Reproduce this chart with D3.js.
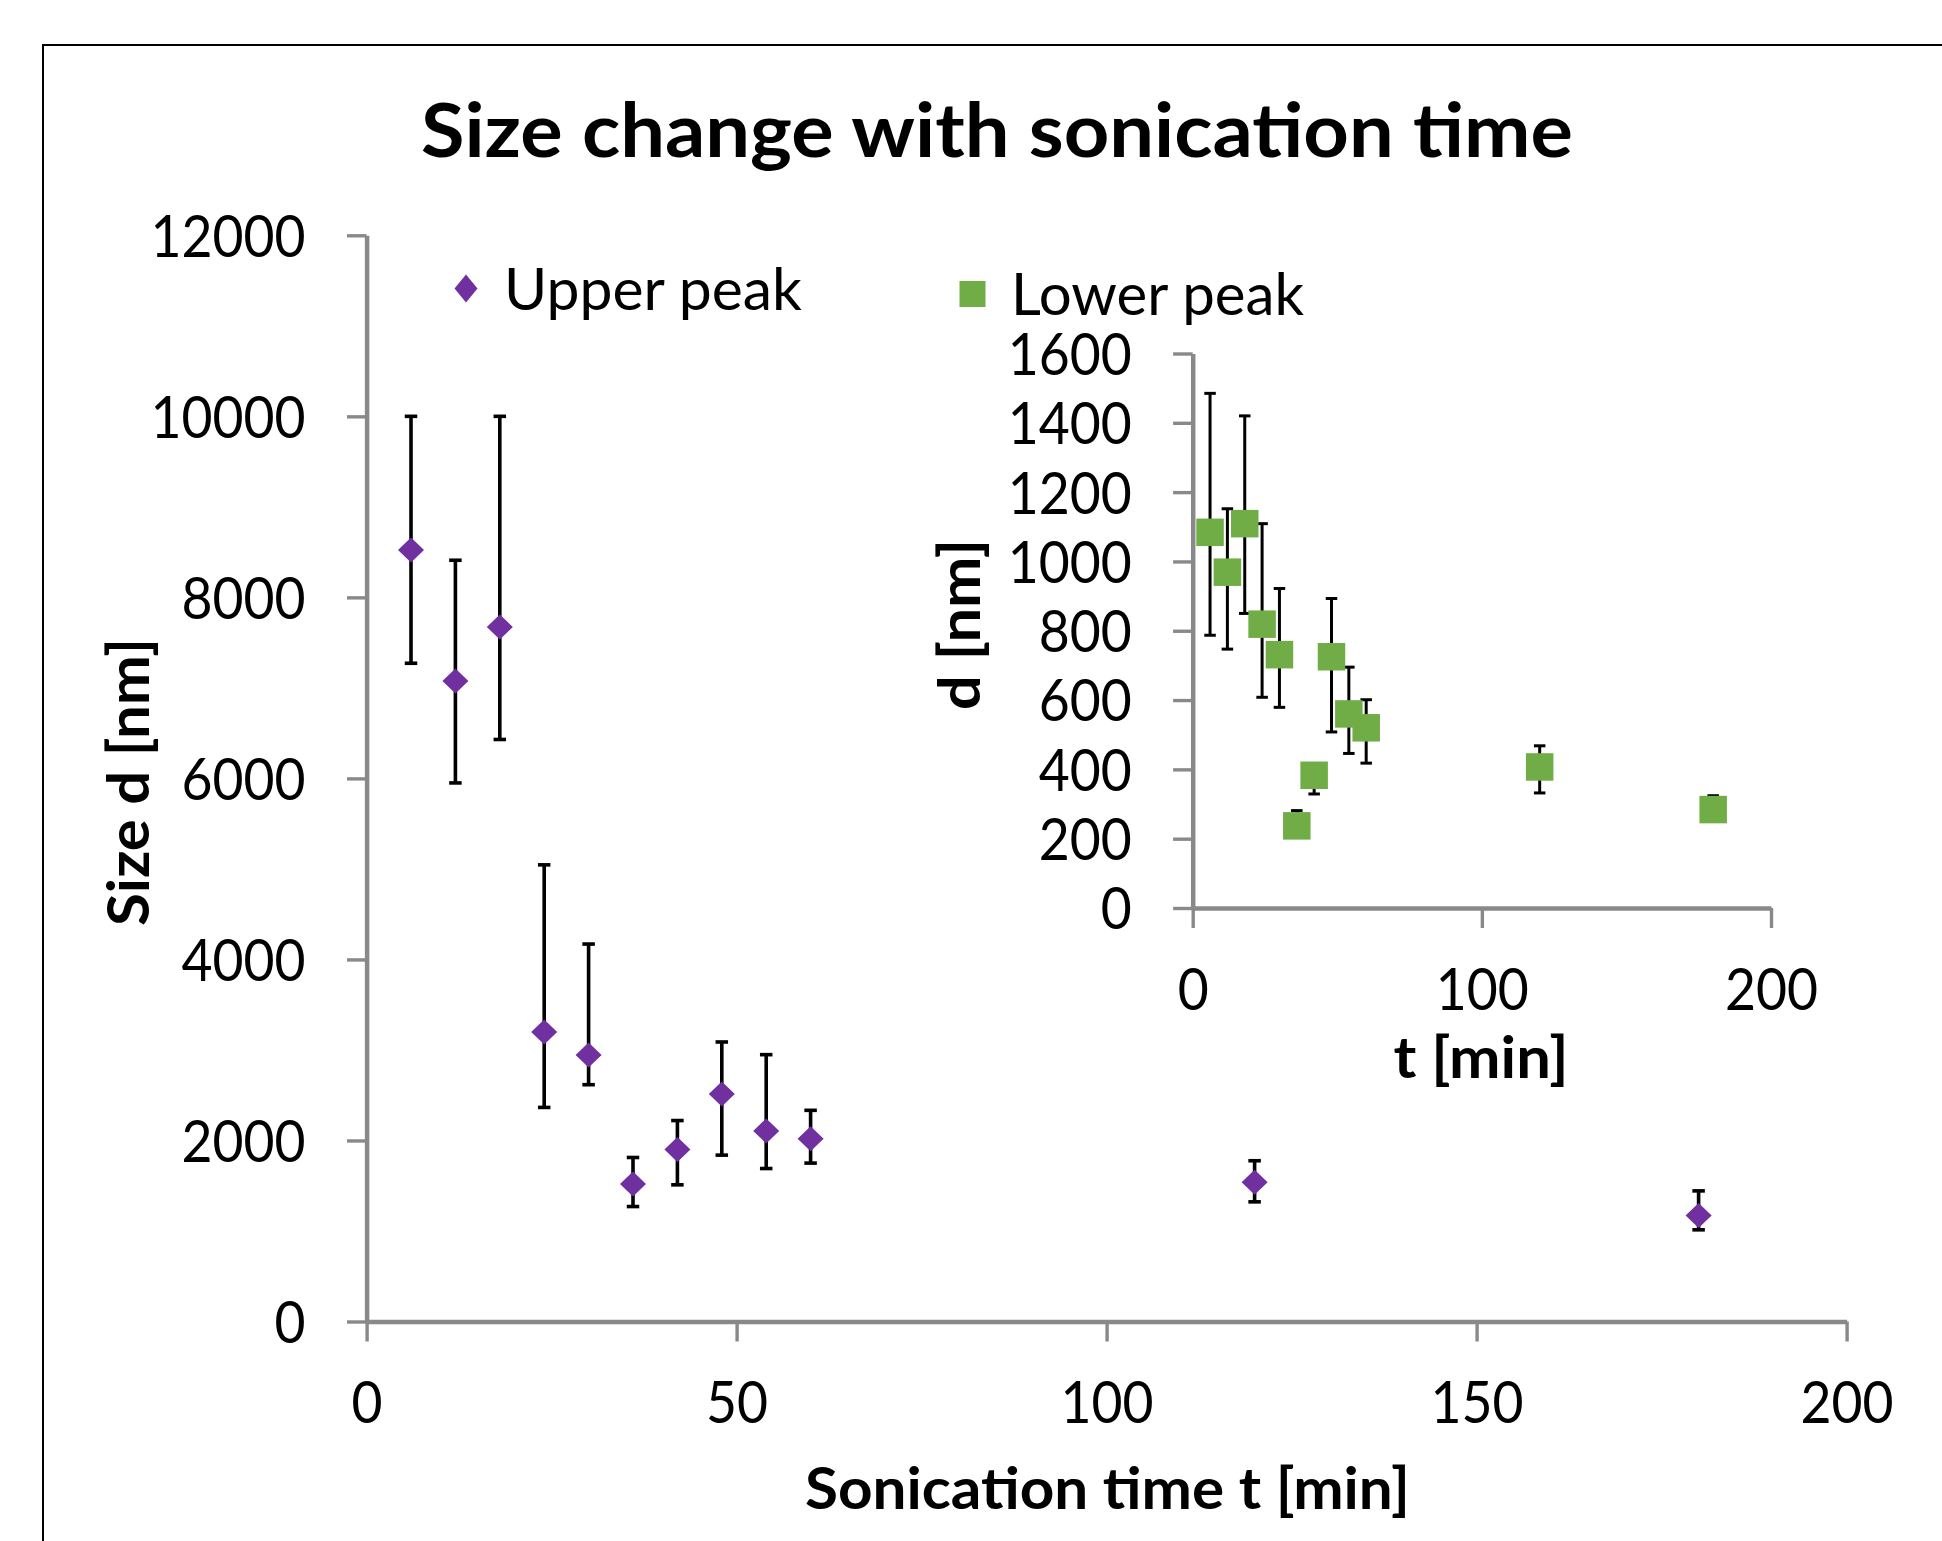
<!DOCTYPE html>
<html>
<head>
<meta charset="utf-8">
<script src="https://cdn.jsdelivr.net/npm/d3@7"></script>
<style>
  html, body { margin: 0; padding: 0; background: #fff; }
  svg { display: block; font-family: Lato, "Open Sans", sans-serif; }
</style>
</head>
<body>
<svg id="chart" width="1942" height="1541"></svg>
<script>
// ---- data ----
const times = [6, 12, 18, 24, 30, 36, 42, 48, 54, 60, 120, 180];

const upperSize = [8523, 7075, 7672, 3198, 2944, 1519, 1900, 2512, 2105, 2020, 1538, 1170];
const upperHigh = [10000, 8410, 10000, 5045, 4170, 1812, 2220, 3088, 2948, 2333, 1776, 1443];
const upperLow  = [7272, 5950, 6430, 2365, 2616, 1270, 1510, 1838, 1690, 1750, 1322, 1013];

const lowerSize = [1084, 969, 1109, 819, 731, 237, 383, 725, 560, 520, 407, 284];
const lowerHigh = [1485, 1152, 1420, 1109, 922, 281, 395, 893, 695, 601, 468, 324];
const lowerLow  = [787, 747, 850, 608, 579, 215, 329, 508, 446, 418, 332, 270];

const mainXTicks = [0, 50, 100, 150, 200];
const mainYTicks = [0, 2000, 4000, 6000, 8000, 10000, 12000];
const insetXTicks = [0, 100, 200];
const insetYTicks = [0, 200, 400, 600, 800, 1000, 1200, 1400, 1600];

const titleText = "Size change with sonication time";
const mainXLabel = "Sonication time t [min]";
const mainYLabel = "Size d [nm]";
const insetXLabel = "t [min]";
const insetYLabel = "d [nm]";
const legendNames = ["Upper peak", "Lower peak"];

// ---- styles ----
const PURPLE = "#7030A0";
const GREEN = "#70AD47";
const AXIS = "#898989";
const DIGIT_W = 31;

const svg = d3.select("#chart");

// frame (extends beyond the canvas on right/bottom)
svg.append("rect")
  .attr("x", 43).attr("y", 45).attr("width", 2000).attr("height", 1600)
  .attr("fill", "none").attr("stroke", "#000").attr("stroke-width", 2);

// scales
const x = d3.scaleLinear().domain([0, 200]).range([366.6, 1846.6]);
const y = d3.scaleLinear().domain([0, 12000]).range([1321.5, 235.3]);
const xi = d3.scaleLinear().domain([0, 200]).range([1192.7, 1771]);
const yi = d3.scaleLinear().domain([0, 1600]).range([908, 353.5]);

function styleAxis(g, orient) {
  g.select(".domain").attr("stroke", AXIS).attr("stroke-width", 4.5);
  g.selectAll(".tick line").attr("stroke", AXIS).attr("stroke-width", 3.4);
  g.selectAll(".tick text")
    .attr("fill", "#000")
    .attr("font-size", 58)
    .attr("font-family", "Lato, sans-serif")
    .attr("textLength", d => String(d).length * DIGIT_W)
    .attr("lengthAdjust", "spacingAndGlyphs");
  if (orient === "left") {
    g.selectAll(".tick text").attr("x", -61).attr("dy", "0.36em");
  } else {
    g.selectAll(".tick text").attr("y", 101.5).attr("dy", null);
  }
}

function drawAxes(xs, ys, xt, yt) {
  const gx = svg.append("g")
    .attr("transform", `translate(0,${ys(0)})`)
    .call(d3.axisBottom(xs).tickValues(xt).tickSize(20).tickSizeOuter(0).tickFormat(d3.format("d")));
  styleAxis(gx, "bottom");
  const gy = svg.append("g")
    .attr("transform", `translate(${xs(0)},0)`)
    .call(d3.axisLeft(ys).tickValues(yt).tickSize(19.6).tickSizeOuter(0).tickFormat(d3.format("d")));
  styleAxis(gy, "left");
}

drawAxes(x, y, mainXTicks, mainYTicks);
drawAxes(xi, yi, insetXTicks, insetYTicks);

// error bars
function errorBars(xs, ys, hi, lo, width, capW) {
  const g = svg.append("g").attr("stroke", "#000").attr("fill", "none");
  times.forEach((t, i) => {
    const cx = xs(t);
    g.append("line").attr("x1", cx).attr("x2", cx)
      .attr("y1", ys(hi[i])).attr("y2", ys(lo[i])).attr("stroke-width", width);
    [hi[i], lo[i]].forEach(v => {
      g.append("line").attr("x1", cx - capW / 2).attr("x2", cx + capW / 2)
        .attr("y1", ys(v)).attr("y2", ys(v)).attr("stroke-width", width);
    });
  });
}

errorBars(x, y, upperHigh, upperLow, 3.6, 12.5);
errorBars(xi, yi, lowerHigh, lowerLow, 3.0, 11.5);

// markers
const diamond = (w, h) => `M0,${-h/2}L${w/2},0L0,${h/2}L${-w/2},0Z`;

svg.append("g").selectAll("path")
  .data(times.map((t, i) => [t, upperSize[i]]))
  .join("path")
  .attr("transform", d => `translate(${x(d[0])},${y(d[1])})`)
  .attr("d", diamond(26, 25))
  .attr("fill", PURPLE);

const SQ = 27.5;
svg.append("g").selectAll("rect")
  .data(times.map((t, i) => [t, lowerSize[i]]))
  .join("rect")
  .attr("x", d => xi(d[0]) - SQ / 2)
  .attr("y", d => yi(d[1]) - SQ / 2)
  .attr("width", SQ).attr("height", SQ)
  .attr("fill", GREEN);

// legend
svg.append("path").attr("transform", "translate(466,288.6)").attr("d", diamond(23, 28)).attr("fill", PURPLE);
svg.append("text").attr("x", 504).attr("y", 309.6).attr("font-size", 58)
  .attr("textLength", 298).attr("lengthAdjust", "spacingAndGlyphs").text(legendNames[0]);
svg.append("rect").attr("x", 972.5 - 13).attr("y", 294 - 13).attr("width", 26).attr("height", 26).attr("fill", GREEN);
svg.append("text").attr("x", 1011).attr("y", 314.6).attr("font-size", 58)
  .attr("textLength", 293).attr("lengthAdjust", "spacingAndGlyphs").text(legendNames[1]);

// titles
function boldText(tx, ty, rot, size, len, str) {
  svg.append("text")
    .attr("transform", `translate(${tx},${ty})` + (rot ? ` rotate(${rot})` : ""))
    .attr("text-anchor", "middle")
    .attr("font-weight", "bold")
    .attr("font-size", size)
    .attr("textLength", len)
    .attr("lengthAdjust", "spacingAndGlyphs")
    .text(str);
}

boldText(997, 157, 0, 75, 1152, titleText);
boldText(1107.5, 1509, 0, 57, 605, mainXLabel);
boldText(148.5, 782, -90, 57, 288, mainYLabel);
boldText(1481, 1077.5, 0, 57, 175, insetXLabel);
boldText(980, 624.5, -90, 57, 171, insetYLabel);
</script>
</body>
</html>
